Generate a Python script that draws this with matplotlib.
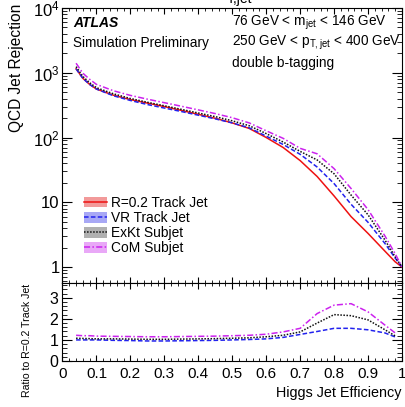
import numpy as np
import matplotlib
matplotlib.use('Agg')
import matplotlib.pyplot as plt
from matplotlib.lines import Line2D
from matplotlib.patches import Patch
from matplotlib.ticker import FixedLocator, MultipleLocator, LogLocator, FuncFormatter, NullFormatter

plt.rcParams['font.family'] = ['Liberation Sans', 'DejaVu Sans']
plt.rcParams['mathtext.fontset'] = 'custom'
plt.rcParams['mathtext.rm'] = 'Liberation Sans'
plt.rcParams['mathtext.it'] = 'Liberation Sans:italic'
plt.rcParams['mathtext.bf'] = 'Liberation Sans:bold'

# Higgs jet efficiency grid
eff = [0.04, 0.06, 0.08, 0.10, 0.15, 0.20, 0.25, 0.30, 0.35, 0.40, 0.45, 0.50,
       0.55, 0.60, 0.65, 0.70, 0.75, 0.80, 0.85, 0.90, 0.95, 0.98, 1.00]

# QCD jet rejection per tagger
rej_r02 = [1150, 820, 660, 560, 450, 385, 340, 300, 262, 228, 198, 168,
           138, 100, 70, 44, 25, 12.5, 6.0, 3.3, 1.75, 1.2, 1.0]
rej_vr = [1150, 820, 660, 560, 441, 373, 323, 285, 252, 221, 194, 168,
          141, 105, 78, 55, 35, 19.4, 9.3, 4.9, 2.3, 1.37, 1.0]
rej_exkt = [1242, 877, 700, 588, 473, 400, 350, 309, 272, 239, 210, 181,
            152, 115, 85, 61, 45, 27.5, 12.9, 6.4, 2.6, 1.43, 1.0]
rej_com = [1403, 984, 792, 661, 527, 447, 391, 345, 304, 267, 234, 202,
           168, 127, 97, 68, 56, 33, 16.3, 7.7, 3.0, 1.6, 1.0]

# ratio to R=0.2 track jet
eff_ratio = eff[:-1]
ratio_vr = [1.0, 1.0, 1.0, 1.0, 0.98, 0.97, 0.95, 0.95, 0.96, 0.97, 0.98, 1.0,
            1.02, 1.05, 1.12, 1.26, 1.4, 1.55, 1.55, 1.48, 1.33, 1.14]
ratio_exkt = [1.08, 1.07, 1.06, 1.05, 1.05, 1.04, 1.03, 1.03, 1.04, 1.05, 1.06, 1.08,
              1.1, 1.15, 1.22, 1.38, 1.8, 2.2, 2.15, 1.95, 1.48, 1.19]
ratio_com = [1.22, 1.2, 1.2, 1.18, 1.17, 1.16, 1.15, 1.15, 1.16, 1.17, 1.18, 1.2,
             1.22, 1.27, 1.38, 1.55, 2.25, 2.65, 2.72, 2.33, 1.7, 1.33]

labels = ['R=0.2 Track Jet', 'VR Track Jet', 'ExKt Subjet', 'CoM Subjet']
colors = ['#ee1111', '#2222ee', '#111111', '#cc22ee']
bands = ['#f29a9a', '#a8a8f5', '#b0b0b0', '#e9a8f7']
styles = ['-', (0, (3, 1.5)), (0, (1, 1)), (0, (4, 1.5, 1, 1.5))]

W, H = 406, 407
fig = plt.figure(figsize=(W / 100, H / 100), dpi=100)
left, right = 62.5, 402
ax = fig.add_axes([left / W, 1 - 283 / H, (right - left) / W, (283 - 8) / H])
axr = fig.add_axes([left / W, 1 - 361 / H, (right - left) / W, (361 - 283) / H], sharex=ax)

for rej, c, ls in zip([rej_r02, rej_vr, rej_exkt, rej_com], colors, styles):
    ax.plot(eff, rej, color=c, ls=ls, lw=1.1)

for r, c, ls in zip([ratio_vr, ratio_exkt, ratio_com], colors[1:], styles[1:]):
    axr.plot(eff_ratio, r, color=c, ls=ls, lw=1.1)

ax.set_yscale('log')
ax.set_ylim(10 ** (-16 / 64.75), 1e4)
ax.set_xlim(0, 1)
axr.set_ylim(0, 3.7)


def logfmt(v, pos):
    if v == 1:
        return '1'
    if v == 10:
        return '10'
    return r'$\mathregular{10^{%d}}$' % int(round(np.log10(v)))


ax.yaxis.set_major_locator(FixedLocator([1, 10, 100, 1000, 10000]))
ax.yaxis.set_major_formatter(FuncFormatter(logfmt))
ax.yaxis.set_minor_locator(LogLocator(base=10, subs=np.arange(2, 10)))
ax.yaxis.set_minor_formatter(NullFormatter())
ax.xaxis.set_major_locator(MultipleLocator(0.1))
ax.xaxis.set_minor_locator(MultipleLocator(0.02))
plt.setp(ax.get_xticklabels(), visible=False)

axr.yaxis.set_major_locator(FixedLocator([0, 1, 2, 3]))
axr.yaxis.set_minor_locator(MultipleLocator(0.2))
axr.xaxis.set_major_formatter(FuncFormatter(lambda v, p: '%g' % round(v, 1)))

for a in (ax, axr):
    a.tick_params(which='both', direction='in', top=True, right=True)
    a.tick_params(axis='y', which='major', length=7)
    a.tick_params(axis='y', which='minor', length=3.5)
    a.tick_params(axis='x', which='major', length=4.5)
    a.tick_params(axis='x', which='minor', length=2)
    for s in a.spines.values():
        s.set_linewidth(0.8)
ax.tick_params(axis='y', pad=2, labelsize=12)
axr.tick_params(axis='y', pad=3, labelsize=11.5)
axr.tick_params(axis='x', pad=4, labelsize=11)

# axis titles
fig.text(17 / W, 1 - 4 / H, 'QCD Jet Rejection', rotation=90, ha='center', va='top', fontsize=11.2)
fig.text(27 / W, 1 - 284 / H, 'Ratio to R=0.2 Track Jet', rotation=90, ha='center', va='top', fontsize=7.6)
fig.text(402 / W, 1 - 393 / H, 'Higgs Jet Efficiency', ha='right', va='center', fontsize=10.4)

# cut-off label at the very top
fig.text(227 / W, 1 - 3 / H, 'T,jet', ha='left', va='baseline', fontsize=10)

# annotations
fig.text(73 / W, 1 - 23 / H, 'ATLAS', fontsize=10, fontweight='bold', fontstyle='italic', va='center')
fig.text(73 / W, 1 - 43 / H, 'Simulation Preliminary', fontsize=9.8, va='center')
fig.text(232 / W, 1 - 23 / H, r'76 GeV < m$_{\mathregular{jet}}$ < 146 GeV', fontsize=9.8, va='center')
fig.text(232 / W, 1 - 43 / H, r'250 GeV < p$_{\mathregular{T,jet}}$ < 400 GeV', fontsize=9.8, va='center')
fig.text(232 / W, 1 - 63 / H, 'double b-tagging', fontsize=9.8, va='center')

handles = [(Patch(facecolor=b, edgecolor='none'), Line2D([], [], color=c, ls=ls, lw=1.1))
           for b, c, ls in zip(bands, colors, styles)]
ax.legend(handles, labels, loc='upper left', bbox_to_anchor=(84 / W, 1 - 196 / H),
          bbox_transform=fig.transFigure, frameon=False, fontsize=9.9,
          handlelength=1.65, handleheight=0.8, handletextpad=0.35, labelspacing=0.08,
          borderpad=0, borderaxespad=0)

fig.savefig('out.png', dpi=100)
